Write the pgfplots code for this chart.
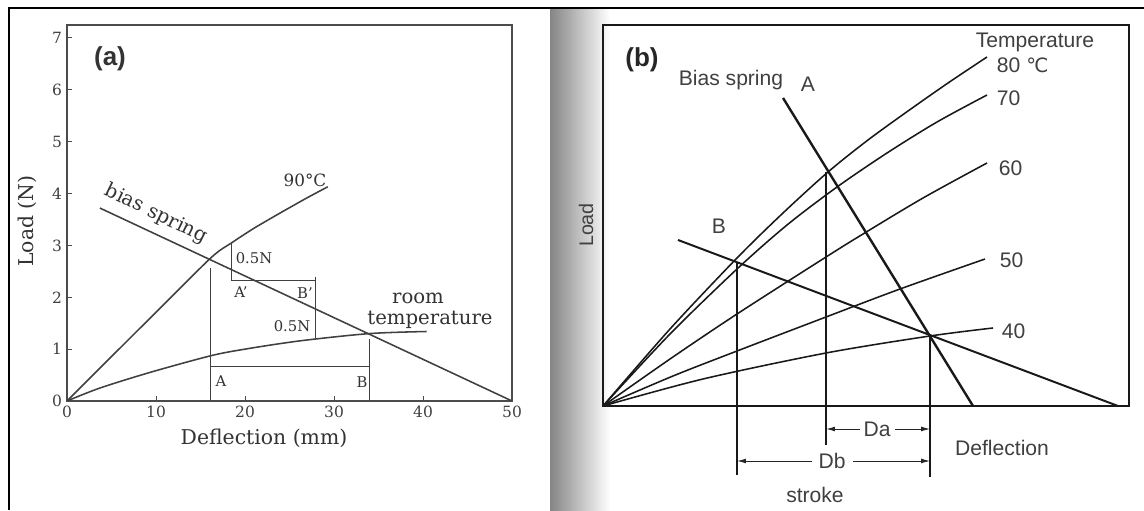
\documentclass[border=0pt]{standalone}
\usepackage{pgfplots}
\pgfplotsset{compat=1.18}
\usetikzlibrary{arrows.meta}
\usepackage{fontspec}
\setmainfont{DejaVu Serif}
\newfontfamily\sansf{Liberation Sans}
\newfontfamily\dejasans{DejaVu Sans}

\newcommand{\fs}[1]{\fontsize{#1}{#1}\selectfont}

\begin{document}
\begin{tikzpicture}[x=0.25mm,y=0.25mm]
% page area
\path[use as bounding box, fill=white] (0,0) rectangle (1144,510);
% gutter shading between the two panels
\shade[left color=black!48, right color=white] (550,0) rectangle (610,502);
% outer frame
\draw[line width=1.6pt] (9,0) -- (9,502) -- (1144,502);

% ---------------- panel (a): measured load-deflection curves ----------------
\begin{axis}[
  at={(16.75mm,27.25mm)}, anchor=south west,
  scale only axis, width=111.25mm, height=94mm,
  xmin=0, xmax=50, ymin=0, ymax=7.25,
  xtick={0,10,20,30,40,50}, ytick={0,1,2,3,4,5,6,7},
  tick align=inside, tick pos=left,
  major tick length=1.3mm,
  axis line style={black!70, line width=0.9pt},
  every tick/.style={black!70, line width=0.7pt},
  tick label style={font=\fs{11}, text=black!75},
  /pgf/number format/assume math mode=true,
  every axis plot/.append style={black!75, line width=1.1pt, no markers},
]
% 90 C curve
\addplot[smooth, tension=0.4] coordinates {(0,0) (8,1.37) (16.1,2.75) (18.5,3.05) (21,3.33) (24,3.63) (27,3.92) (29.3,4.13)};
% room temperature curve
\addplot[smooth, tension=0.5] coordinates {(0,0) (3.7,0.25) (9.3,0.55) (16.1,0.87) (20,1.0) (26.2,1.16) (34,1.30) (40.4,1.34)};
% bias spring
\addplot[] coordinates {(3.7,3.72) (50,0)};
% stroke guides
\addplot[line width=0.9pt] coordinates {(16.1,0) (16.1,2.56)};
\addplot[line width=0.9pt] coordinates {(34,0) (34,1.2)};
\addplot[line width=0.9pt] coordinates {(16.1,0.66) (34,0.66)};
% 0.5 N brackets
\addplot[line width=0.9pt] coordinates {(18.5,3.05) (18.5,2.33) (27.9,2.33)};
\addplot[line width=0.9pt] coordinates {(27.9,2.40) (27.9,1.21)};
\end{axis}

\begin{scope}[every node/.style={text=black!80}]
\node[font=\sansf\bfseries\fs{18.5}] at (110,451) {(a)};
\node[font=\fs{14.5}, rotate=90] at (27,289) {Load (N)};
\node[font=\fs{14.5}] at (264,72) {Deflection (mm)};
\node[font=\fs{14}, rotate=-26] at (156,296) {bias spring};
\node[font=\fs{12}] at (305,330) {90\textdegree C};
\node[font=\fs{10.5}] at (254,252) {0.5N};
\node[font=\fs{10.5}] at (241,218) {A'};
\node[font=\fs{10.5}] at (305,217) {B'};
\node[font=\fs{10.5}] at (292,184) {0.5N};
\node[font=\fs{14}] at (418,212) {room};
\node[font=\fs{14}] at (430,190) {temperature};
\node[font=\fs{10.5}] at (221,129) {A};
\node[font=\fs{10.5}] at (362,128) {B};
\end{scope}

% ---------------- panel (b): schematic with two bias springs ----------------
\begin{axis}[
  at={(150.75mm,26mm)}, anchor=south west,
  scale only axis, width=131.5mm, height=95.25mm,
  xmin=0, xmax=526, ymin=0, ymax=381,
  xtick=\empty, ytick=\empty,
  axis line style={black!90, line width=1.2pt},
  clip=false,
  every axis plot/.append style={black!90, line width=1.1pt, no markers},
]
% SMA curves at 80, 70, 60, 50 and 40 C
\addplot[smooth, tension=0.5] coordinates {(0,0) (67,77) (134,148) (180,193) (225,234) (265,266) (305,295) (345,323) (384,349)};
\addplot[smooth, tension=0.5] coordinates {(0,0) (67,72) (134,137) (184,181) (234,219) (284,253) (334,284) (384,311)};
\addplot[smooth, tension=0.5] coordinates {(0,0) (67,47) (134,92) (223,149) (260,172) (320,208) (384,243)};
\addplot[smooth, tension=0.5] coordinates {(0,0) (70,30) (134,55) (223,89) (297,117) (382,147)};
\addplot[smooth, tension=0.5] coordinates {(0,0) (100,27) (223,53) (327,70) (390,78)};
% bias springs A and B
\addplot[line width=1.7pt] coordinates {(180,308) (370,0)};
\addplot[line width=1.4pt] coordinates {(75,166) (515,0)};
% equilibrium guides
\addplot[line width=1pt] coordinates {(223,234) (223,-39)};
\addplot[line width=1pt] coordinates {(134,143) (134,-69)};
\addplot[line width=1pt] coordinates {(327,70) (327,-71)};
% stroke dimensions
\draw[black!85, line width=0.7pt, -{Latex[length=2.2mm,width=1.2mm]}] (axis cs:257,-23) -- (axis cs:223,-23);
\draw[black!85, line width=0.7pt, -{Latex[length=2.2mm,width=1.2mm]}] (axis cs:292,-23) -- (axis cs:327,-23);
\draw[black!85, line width=0.7pt, -{Latex[length=2.2mm,width=1.2mm]}] (axis cs:209,-55) -- (axis cs:134,-55);
\draw[black!85, line width=0.7pt, -{Latex[length=2.2mm,width=1.2mm]}] (axis cs:250,-55) -- (axis cs:327,-55);
\end{axis}

\begin{scope}[every node/.style={text=black!75, font=\sansf\fs{15}}]
\node[font=\sansf\bfseries\fs{18.5}, text=black!85] at (642,450) {(b)};
\node at (731,430) {Bias spring};
\node at (808,426) {A};
\node at (719,284) {B};
\node at (1035,468) {Temperature};
\node[anchor=west] at (992,445) {80 {\dejasans\fs{14}℃}};
\node[anchor=west] at (992,412) {70};
\node[anchor=west] at (994,342) {60};
\node[anchor=west] at (995,250) {50};
\node[anchor=west] at (997,179) {40};
\node[rotate=90, font=\sansf\fs{14}] at (586,285) {Load};
\node at (1002,62) {Deflection};
\node at (877,81) {Da};
\node at (832,49) {Db};
\node at (815,15) {stroke};
\end{scope}
\end{tikzpicture}
\end{document}
